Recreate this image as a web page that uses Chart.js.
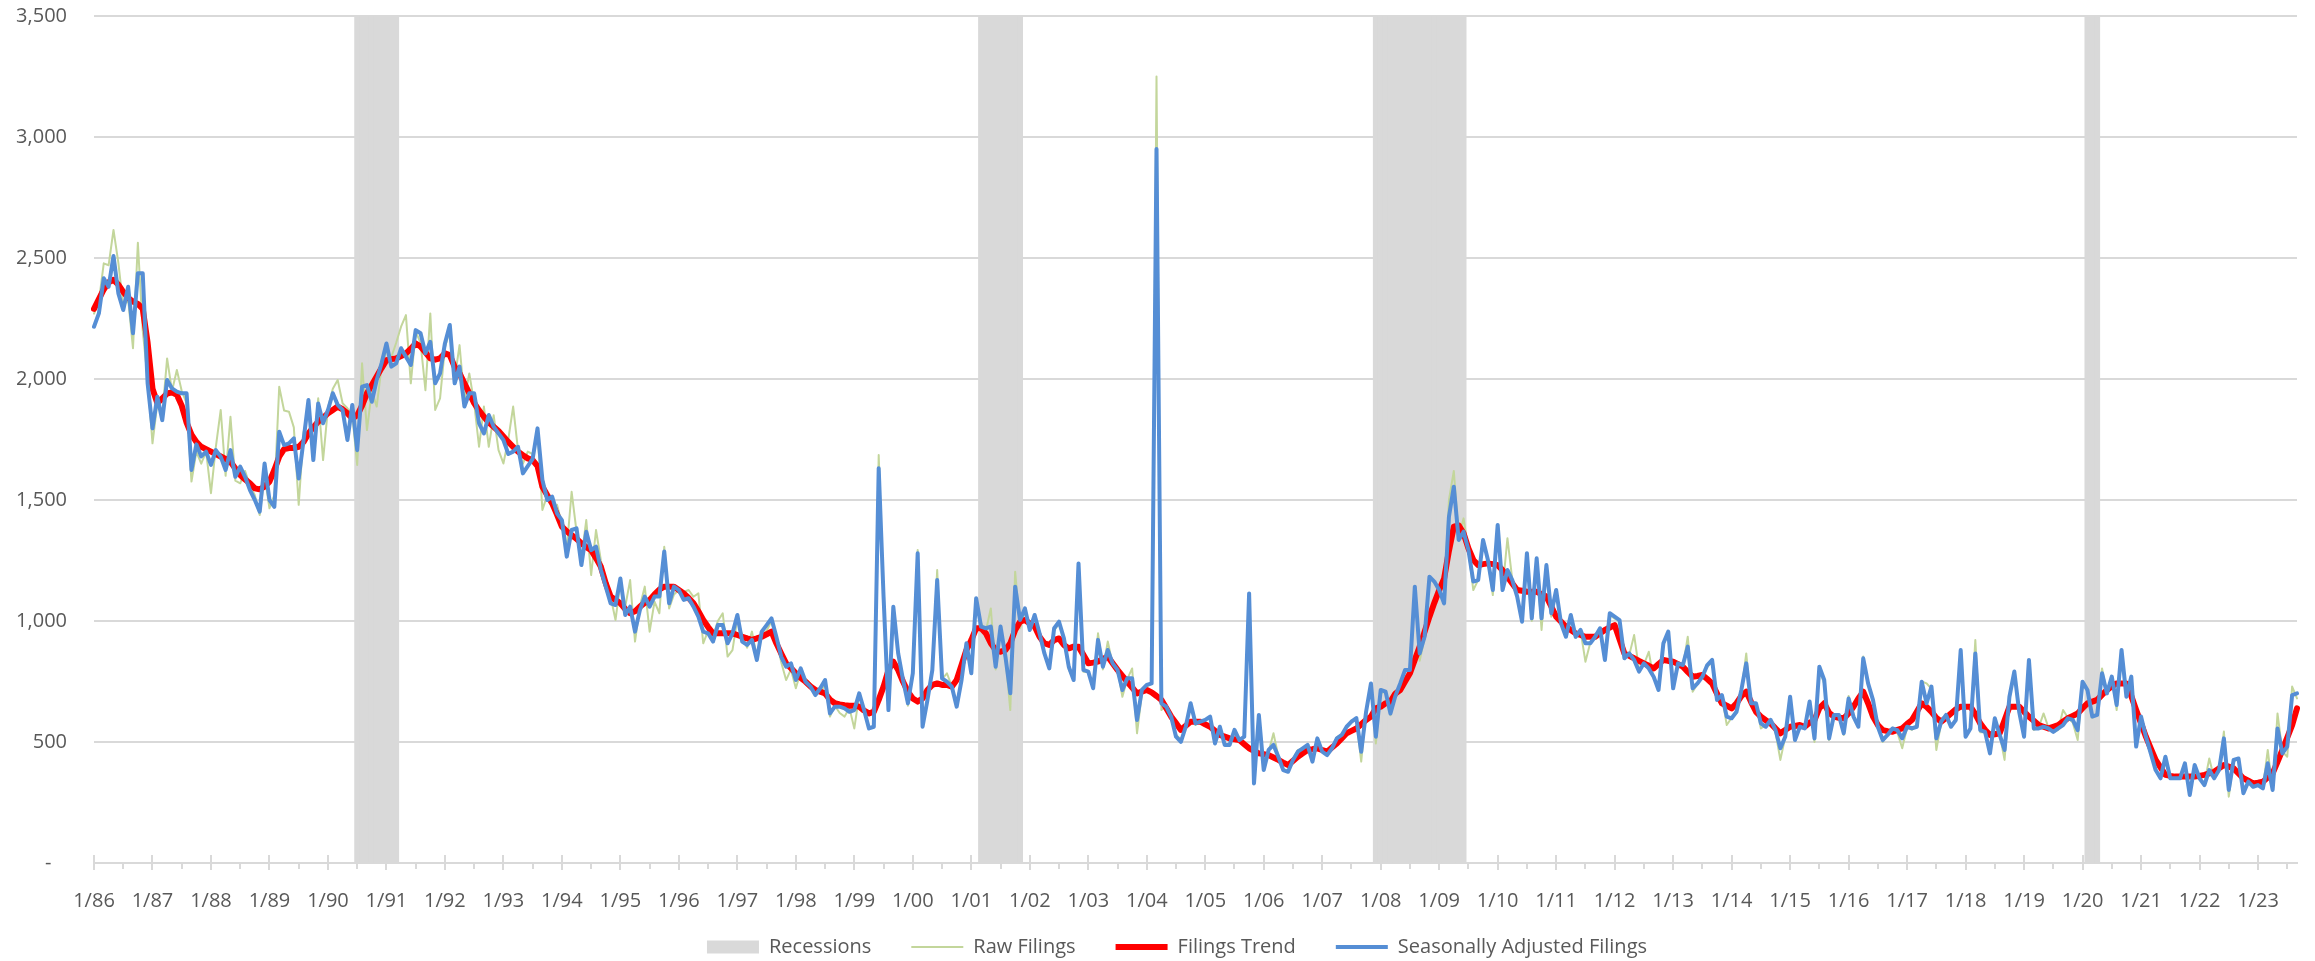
<!DOCTYPE html>
<html>
<head>
<meta charset="utf-8">
<title>Filings</title>
<script src="https://cdn.jsdelivr.net/npm/chart.js@4.4.1/dist/chart.umd.min.js"></script>
<style>
  html, body { margin: 0; padding: 0; background: #ffffff; }
  canvas { display: block; }
</style>
</head>
<body>
<canvas id="filings-chart" width="2315" height="961"></canvas>
<script>
// Monthly series, Jan 1986 through Sep 2023 (one row per year)
const firstYear = 1986;
const lastYear = 2023;
const lastMonth = 9;

const rawFilings = [
  2270, 2320, 2478, 2470, 2616, 2480, 2300, 2330, 2127, 2563, 2200, 2000, // 1986
  1734, 1900, 1850, 2085, 1950, 2037, 1950, 1900, 1576, 1700, 1650, 1700, // 1987
  1528, 1720, 1872, 1600, 1844, 1580, 1569, 1620, 1560, 1520, 1438, 1600, // 1988
  1466, 1520, 1968, 1870, 1865, 1800, 1480, 1780, 1870, 1700, 1920, 1665, // 1989
  1880, 1960, 1996, 1900, 1879, 1850, 1645, 2065, 1789, 1950, 1886, 2050, // 1990
  2120, 2090, 2150, 2216, 2264, 1982, 2196, 2150, 1954, 2271, 1872, 1920, // 1991
  2130, 2200, 2000, 2140, 1913, 2023, 1900, 1720, 1886, 1720, 1850, 1706, // 1992
  1651, 1750, 1886, 1706, 1650, 1700, 1690, 1780, 1459, 1520, 1480, 1480, // 1993
  1400, 1300, 1534, 1370, 1260, 1417, 1190, 1376, 1250, 1150, 1100, 1004, // 1994
  1160, 1060, 1169, 915, 1060, 1142, 956, 1080, 1032, 1307, 1052, 1110,    // 1995
  1128, 1120, 1128, 1100, 1114, 908, 960, 935, 1000, 1032, 853, 880,       // 1996
  1010, 940, 890, 956, 850, 940, 960, 1000, 920, 830, 756, 800,            // 1997
  722, 790, 760, 740, 722, 700, 740, 605, 650, 620, 605, 640,              // 1998
  556, 694, 640, 560, 565, 1686, 1080, 640, 1040, 870, 760, 650,           // 1999
  790, 1293, 570, 680, 800, 1211, 760, 784, 730, 660, 760, 900,            // 2000
  790, 1080, 990, 960, 1052, 800, 980, 850, 632, 1204, 970, 1040,          // 2001
  960, 1020, 950, 870, 810, 960, 990, 920, 800, 756, 1220, 790,            // 2002
  790, 730, 949, 800, 915, 820, 800, 687, 760, 804, 536, 700,              // 2003
  730, 740, 3250, 632, 650, 600, 530, 510, 560, 650, 570, 590,             // 2004
  590, 600, 500, 560, 490, 490, 550, 510, 520, 1100, 340, 600,             // 2005
  384, 460, 536, 440, 390, 380, 430, 467, 470, 490, 420, 510,              // 2006
  460, 450, 480, 520, 530, 560, 590, 590, 419, 630, 740, 494,              // 2007
  700, 710, 610, 690, 740, 800, 790, 1140, 836, 930, 1180, 1160,           // 2008
  1120, 1080, 1500, 1620, 1350, 1424, 1290, 1128, 1170, 1330, 1250, 1107,  // 2009
  1390, 1130, 1342, 1170, 1100, 1000, 1270, 1000, 1250, 963, 1220, 1018,   // 2010
  1120, 1000, 940, 1020, 930, 960, 832, 910, 940, 960, 850, 1025,          // 2011
  1010, 1000, 850, 860, 942, 800, 820, 873, 760, 742, 900, 950,            // 2012
  720, 820, 810, 935, 708, 740, 770, 810, 830, 680, 690, 570,              // 2013
  600, 620, 710, 866, 650, 660, 556, 570, 590, 540, 426, 520,              // 2014
  680, 510, 560, 560, 667, 500, 800, 740, 508, 600, 610, 529,              // 2015
  690, 605, 570, 853, 740, 670, 560, 500, 530, 560, 540, 474,              // 2016
  560, 550, 570, 750, 742, 720, 467, 580, 610, 560, 590, 880,              // 2017
  520, 560, 921, 540, 540, 460, 590, 530, 426, 690, 790, 620,              // 2018
  520, 840, 550, 560, 618, 560, 540, 550, 632, 600, 580, 508,              // 2019
  740, 710, 600, 620, 804, 700, 770, 632, 880, 690, 770, 480,              // 2020
  600, 520, 450, 390, 350, 439, 350, 350, 360, 410, 290, 400,              // 2021
  350, 330, 432, 350, 380, 543, 274, 420, 430, 290, 330, 315,              // 2022
  320, 310, 467, 300, 618, 460, 439, 729, 680                              // 2023
];

const filingsTrend = [
  2290, 2330, 2370, 2400, 2410, 2390, 2360, 2335, 2320, 2310, 2290, 2150, // 1986
  1960, 1900, 1920, 1940, 1945, 1935, 1890, 1820, 1770, 1740, 1720, 1710, // 1987
  1700, 1690, 1680, 1670, 1658, 1630, 1603, 1585, 1569, 1548, 1544, 1555, // 1988
  1576, 1624, 1679, 1710, 1715, 1715, 1720, 1740, 1775, 1800, 1824, 1840, // 1989
  1858, 1872, 1886, 1875, 1858, 1837, 1850, 1890, 1941, 1975, 2010, 2045, // 1990
  2078, 2082, 2085, 2095, 2106, 2125, 2147, 2134, 2110, 2085, 2080, 2085, // 1991
  2106, 2099, 2050, 2023, 1982, 1941, 1900, 1870, 1844, 1820, 1803, 1785, // 1992
  1762, 1740, 1720, 1700, 1685, 1672, 1665, 1640, 1555, 1520, 1486, 1440, // 1993
  1390, 1370, 1355, 1340, 1321, 1305, 1293, 1260, 1224, 1156, 1101, 1087, // 1994
  1073, 1050, 1032, 1040, 1059, 1075, 1087, 1110, 1130, 1142, 1142, 1142, // 1995
  1128, 1114, 1095, 1073, 1040, 1004, 975, 949, 949, 949, 949, 949,       // 1996
  942, 935, 928, 922, 928, 935, 945, 956, 908, 866, 825, 805,             // 1997
  784, 765, 749, 730, 715, 708, 701, 675, 660, 655, 652, 650,             // 1998
  650, 646, 630, 618, 625, 674, 729, 797, 832, 797, 749, 708,             // 1999
  680, 667, 680, 715, 736, 742, 736, 736, 729, 756, 818, 880,             // 2000
  921, 970, 970, 949, 908, 880, 873, 880, 908, 963, 997, 1004,            // 2001
  990, 977, 935, 908, 901, 921, 928, 901, 887, 894, 894, 860,             // 2002
  825, 828, 832, 843, 853, 825, 798, 773, 749, 725, 701, 708,             // 2003
  715, 705, 690, 674, 640, 605, 578, 550, 567, 584, 584, 584,             // 2004
  573, 563, 546, 529, 522, 515, 511, 508, 491, 474, 463, 453,             // 2005
  450, 446, 436, 426, 415, 405, 422, 439, 453, 467, 470, 474,             // 2006
  467, 460, 477, 494, 515, 536, 546, 556, 573, 591, 605, 639,             // 2007
  646, 660, 667, 700, 715, 750, 784, 840, 894, 955, 1018, 1075,           // 2008
  1128, 1175, 1290, 1390, 1395, 1362, 1300, 1252, 1231, 1235, 1238, 1235, // 2009
  1231, 1210, 1183, 1155, 1128, 1125, 1121, 1121, 1121, 1111, 1101, 1060, // 2010
  1018, 997, 977, 963, 949, 942, 935, 935, 935, 949, 963, 973,            // 2011
  983, 925, 866, 856, 846, 835, 825, 815, 804, 822, 839, 835,             // 2012
  832, 822, 811, 790, 770, 773, 777, 760, 742, 700, 660, 650,             // 2013
  639, 660, 690, 708, 665, 625, 605, 590, 577, 556, 536, 550,             // 2014
  563, 566, 570, 563, 580, 590, 640, 660, 620, 605, 600, 598,             // 2015
  618, 646, 680, 708, 660, 605, 570, 549, 545, 542, 550, 556,             // 2016
  575, 591, 625, 660, 645, 625, 600, 584, 600, 618, 635, 646,             // 2017
  646, 646, 615, 577, 550, 529, 532, 536, 590, 646, 646, 646,             // 2018
  625, 605, 588, 570, 563, 556, 563, 570, 585, 598, 608, 618,             // 2019
  640, 660, 667, 674, 695, 715, 730, 742, 742, 742, 690, 632,             // 2020
  577, 522, 474, 426, 395, 364, 360, 357, 357, 357, 357, 357,             // 2021
  360, 364, 370, 377, 391, 405, 398, 391, 370, 350, 340, 329,             // 2022
  332, 336, 353, 370, 418, 467, 518, 570, 639                             // 2023
];

const adjustedFilings = [
  2216, 2271, 2416, 2381, 2508, 2354, 2285, 2381, 2189, 2437, 2437, 1982, // 1986
  1796, 1927, 1830, 1996, 1961, 1948, 1941, 1941, 1624, 1730, 1680, 1700, // 1987
  1645, 1706, 1679, 1624, 1706, 1596, 1638, 1596, 1541, 1500, 1452, 1651, // 1988
  1500, 1472, 1782, 1727, 1734, 1755, 1589, 1748, 1913, 1665, 1899, 1817, // 1989
  1872, 1941, 1893, 1872, 1748, 1893, 1706, 1968, 1975, 1906, 1996, 2065, // 1990
  2147, 2051, 2065, 2127, 2092, 2058, 2202, 2189, 2106, 2154, 1982, 2023, // 1991
  2147, 2223, 1982, 2051, 1886, 1941, 1941, 1817, 1775, 1851, 1803, 1775, // 1992
  1748, 1690, 1700, 1720, 1610, 1640, 1670, 1796, 1583, 1500, 1514, 1445, // 1993
  1417, 1266, 1376, 1383, 1231, 1369, 1293, 1307, 1211, 1142, 1073, 1066, // 1994
  1176, 1025, 1059, 956, 1045, 1101, 1059, 1101, 1101, 1287, 1073, 1142,  // 1995
  1128, 1087, 1094, 1059, 1018, 956, 949, 915, 983, 983, 908, 949,        // 1996
  1025, 915, 901, 922, 839, 956, 983, 1011, 935, 853, 811, 825,           // 1997
  756, 804, 749, 729, 694, 722, 756, 618, 646, 646, 639, 625,             // 1998
  632, 701, 632, 556, 563, 1631, 1100, 632, 1059, 866, 756, 660,          // 1999
  784, 1280, 563, 673, 797, 1169, 763, 749, 729, 646, 756, 908,           // 2000
  784, 1094, 977, 970, 977, 811, 977, 853, 701, 1142, 1004, 1052,         // 2001
  963, 1025, 949, 866, 804, 970, 997, 928, 811, 756, 1238, 798,           // 2002
  791, 722, 922, 811, 880, 825, 798, 715, 763, 763, 591, 715,             // 2003
  736, 742, 2950, 660, 646, 605, 522, 501, 563, 660, 577, 584,            // 2004
  591, 605, 494, 563, 488, 488, 550, 508, 522, 1114, 329, 612,            // 2005
  384, 467, 488, 439, 384, 377, 426, 460, 474, 488, 419, 515,             // 2006
  460, 446, 474, 515, 529, 563, 584, 599, 460, 625, 742, 522,             // 2007
  715, 708, 618, 690, 742, 798, 798, 1142, 866, 935, 1183, 1163,          // 2008
  1128, 1073, 1431, 1555, 1335, 1369, 1293, 1163, 1169, 1335, 1252, 1128, // 2009
  1397, 1128, 1211, 1169, 1101, 997, 1280, 1011, 1259, 1011, 1231, 1032,  // 2010
  1128, 990, 935, 1025, 935, 963, 908, 908, 935, 970, 839, 1032,          // 2011
  1018, 1004, 846, 866, 839, 791, 825, 804, 770, 715, 908, 956,           // 2012
  722, 825, 818, 894, 722, 742, 770, 818, 839, 674, 694, 605,             // 2013
  598, 625, 715, 825, 660, 660, 577, 563, 591, 550, 474, 522,             // 2014
  687, 508, 563, 556, 667, 515, 811, 756, 515, 612, 612, 536,             // 2015
  680, 605, 563, 846, 742, 674, 563, 508, 529, 556, 549, 515,             // 2016
  563, 556, 563, 749, 660, 729, 515, 584, 612, 563, 591, 880,             // 2017
  522, 556, 866, 549, 542, 453, 598, 529, 467, 687, 791, 625,             // 2018
  522, 839, 556, 556, 563, 556, 542, 556, 570, 598, 591, 549,             // 2019
  749, 715, 605, 612, 784, 701, 770, 653, 880, 687, 770, 481,             // 2020
  605, 522, 453, 384, 350, 439, 350, 350, 350, 412, 281, 405,             // 2021
  350, 322, 384, 350, 384, 515, 302, 426, 432, 288, 336, 315,             // 2022
  322, 308, 412, 302, 556, 453, 481, 694, 701                             // 2023
];

// NBER recessions, first and last month shaded
const recessions = [
  ['7/90', '3/91'],
  ['3/01', '11/01'],
  ['12/07', '6/09'],
  ['2/20', '4/20']
];

const yMax = 3500;
const yStep = 500;

// month labels like "1/86", "2/86", ...
const months = [];
for (let y = firstYear; y <= lastYear; y++) {
  for (let m = 1; m <= 12; m++) {
    if (y === lastYear && m > lastMonth) break;
    months.push(m + '/' + String(y % 100).padStart(2, '0'));
  }
}

const recessionBars = months.map(() => null);
recessions.forEach(([from, to]) => {
  for (let i = months.indexOf(from); i <= months.indexOf(to); i++) {
    recessionBars[i] = yMax;
  }
});

const textColor = '#595959';
const gridColor = '#d9d9d9';

// Jan ticks cross the axis, Jul ticks hang below it
const axisTicks = {
  id: 'axisTicks',
  beforeDatasetsDraw(chart) {
    const { ctx, chartArea } = chart;
    const xScale = chart.scales.x;
    const y0 = chartArea.bottom;
    ctx.save();
    ctx.strokeStyle = gridColor;
    ctx.lineWidth = 2;
    months.forEach((label, i) => {
      const month = label.split('/')[0];
      if (month !== '1' && month !== '7') return;
      const px = Math.round(xScale.getPixelForValue(i));
      ctx.beginPath();
      if (month === '1') {
        ctx.moveTo(px, y0 - 8);
        ctx.lineTo(px, y0 + 7);
      } else {
        ctx.moveTo(px, y0);
        ctx.lineTo(px, y0 + 6);
      }
      ctx.stroke();
    });
    ctx.restore();
  }
};

// legend sits a little right of the canvas centre and tucked up under the axis labels
const legendNudge = {
  id: 'legendNudge',
  afterLayout(chart) {
    const legend = chart.legend;
    legend.left += 27;
    legend.right += 27;
    legend.top -= 12;
    legend.bottom -= 12;
  }
};

Chart.defaults.font.family = "'Open Sans', sans-serif";
Chart.defaults.color = textColor;

const ctx = document.getElementById('filings-chart').getContext('2d');
new Chart(ctx, {
  type: 'line',
  data: {
    labels: months,
    datasets: [
      {
        type: 'bar',
        label: 'Recessions',
        data: recessionBars,
        backgroundColor: gridColor,
        borderWidth: 0,
        barPercentage: 1,
        categoryPercentage: 1,
        inflateAmount: 0.5,
        order: 4
      },
      {
        label: 'Raw Filings',
        data: rawFilings,
        borderColor: '#c3d69b',
        backgroundColor: '#c3d69b',
        borderWidth: 2,
        order: 3
      },
      {
        label: 'Filings Trend',
        data: filingsTrend,
        borderColor: '#ff0000',
        backgroundColor: '#ff0000',
        borderWidth: 6,
        order: 2
      },
      {
        label: 'Seasonally Adjusted Filings',
        data: adjustedFilings,
        borderColor: '#558ed5',
        backgroundColor: '#558ed5',
        borderWidth: 4,
        order: 1
      }
    ]
  },
  options: {
    responsive: false,
    animation: false,
    devicePixelRatio: 1,
    layout: {
      padding: { top: 16, right: 15, bottom: -18, left: 0 }
    },
    elements: {
      point: { radius: 0, hoverRadius: 0 },
      line: { tension: 0, borderJoinStyle: 'round', borderCapStyle: 'round' }
    },
    scales: {
      x: {
        type: 'category',
        offset: false,
        grid: { display: false, offset: false },
        border: { display: true, color: gridColor, width: 2 },
        ticks: {
          autoSkip: false,
          maxRotation: 0,
          minRotation: 0,
          padding: 18,
          font: { size: 20 },
          color: textColor,
          callback: (value, index) => months[index].startsWith('1/') ? months[index] : ''
        },
        afterFit: (scale) => { scale.height = 46; }
      },
      y: {
        min: 0,
        max: yMax,
        ticks: {
          stepSize: yStep,
          padding: 0,
          font: { size: 20 },
          color: textColor,
          callback: (value) => value === 0 ? '-   ' : value.toLocaleString('en-US')
        },
        grid: {
          color: gridColor,
          lineWidth: 2,
          drawTicks: true,
          tickLength: 27,
          tickColor: 'rgba(0, 0, 0, 0)'
        },
        border: { display: false },
        afterFit: (scale) => { scale.width = 94; }
      }
    },
    plugins: {
      tooltip: { enabled: false },
      legend: {
        position: 'bottom',
        labels: {
          usePointStyle: true,
          pointStyleWidth: 52,
          boxHeight: 13,
          padding: 40,
          color: textColor,
          font: { size: 20 },
          generateLabels: (chart) => chart.data.datasets.map((ds, i) => ({
            text: ds.label,
            fillStyle: ds.backgroundColor,
            strokeStyle: ds.type === 'bar' ? ds.backgroundColor : ds.borderColor,
            lineWidth: ds.type === 'bar' ? 0 : ds.borderWidth,
            pointStyle: ds.type === 'bar' ? 'rect' : 'line',
            fontColor: textColor,
            hidden: false,
            datasetIndex: i
          }))
        }
      }
    }
  },
  plugins: [axisTicks, legendNudge]
});
</script>
</body>
</html>
